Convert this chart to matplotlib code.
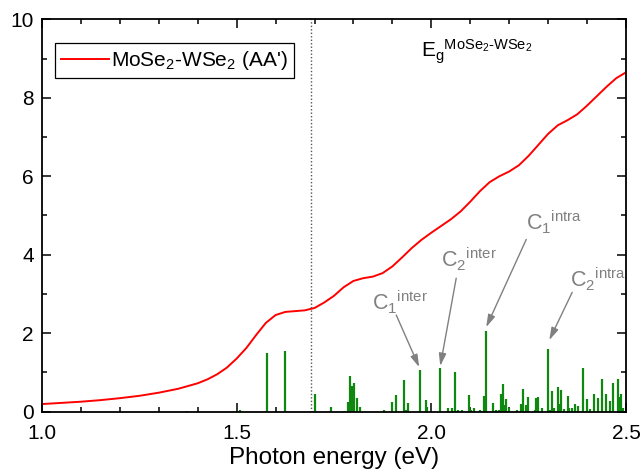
import matplotlib
matplotlib.use('Agg')
import matplotlib.pyplot as plt
import matplotlib.ticker as ticker

plt.rcParams['font.family'] = ['Liberation Sans', 'DejaVu Sans']
plt.rcParams['mathtext.fontset'] = 'custom'
plt.rcParams['mathtext.rm'] = 'Liberation Sans'
plt.rcParams['mathtext.it'] = 'Liberation Sans:italic'
plt.rcParams['mathtext.default'] = 'rm'

# Absorption of the MoSe2-WSe2 (AA') heterobilayer
energy = [1.00, 1.05, 1.10, 1.15, 1.20, 1.25, 1.30, 1.35, 1.40, 1.425,
          1.45, 1.475, 1.50, 1.525, 1.55, 1.575, 1.60, 1.625, 1.65, 1.675,
          1.70, 1.725, 1.75, 1.775, 1.80, 1.825, 1.85, 1.875, 1.90, 1.925,
          1.95, 1.975, 2.00, 2.025, 2.05, 2.075, 2.10, 2.125, 2.15, 2.175,
          2.20, 2.225, 2.25, 2.275, 2.30, 2.325, 2.35, 2.375, 2.40, 2.425,
          2.45, 2.475, 2.50]
absorption = [0.19, 0.22, 0.25, 0.29, 0.34, 0.40, 0.48, 0.58, 0.72, 0.82,
              0.95, 1.12, 1.35, 1.62, 1.95, 2.26, 2.46, 2.54, 2.56, 2.58,
              2.64, 2.78, 2.95, 3.17, 3.33, 3.40, 3.44, 3.53, 3.70, 3.93,
              4.17, 4.38, 4.56, 4.73, 4.90, 5.10, 5.35, 5.62, 5.85, 6.00,
              6.12, 6.28, 6.52, 6.80, 7.08, 7.30, 7.43, 7.58, 7.80, 8.04,
              8.28, 8.50, 8.65]

# Exciton oscillator strengths (sticks)
exc_energy = [1.373, 1.508, 1.579, 1.624, 1.702, 1.743, 1.775, 1.785, 1.790, 1.797,
              1.802, 1.809, 1.818, 1.879, 1.899, 1.910, 1.930, 1.935, 1.940, 1.971,
              1.986, 1.990, 2.022, 2.043, 2.052, 2.060, 2.068, 2.078, 2.097, 2.102,
              2.110, 2.126, 2.135, 2.140, 2.159, 2.166, 2.173, 2.179, 2.184, 2.189,
              2.192, 2.200, 2.221, 2.230, 2.235, 2.243, 2.249, 2.267, 2.270, 2.274,
              2.285, 2.300, 2.304, 2.309, 2.315, 2.325, 2.328, 2.333, 2.342, 2.351,
              2.354, 2.362, 2.368, 2.378, 2.390, 2.399, 2.408, 2.419, 2.428, 2.438,
              2.448, 2.458, 2.468, 2.479, 2.482, 2.487, 2.493]
exc_strength = [0.02, 0.05, 1.50, 1.55, 0.45, 0.11, 0.02, 0.24, 0.91, 0.65,
                0.72, 0.34, 0.11, 0.04, 0.23, 0.43, 0.80, 0.04, 0.22, 1.06,
                0.30, 0.11, 1.10, 0.08, 0.08, 1.01, 0.03, 0.03, 0.42, 0.05,
                0.10, 0.03, 0.39, 2.05, 0.22, 0.05, 0.05, 0.45, 0.69, 0.17,
                0.31, 0.10, 0.03, 0.18, 0.57, 0.16, 0.36, 0.05, 0.34, 0.36,
                0.08, 1.59, 0.05, 0.52, 0.08, 0.63, 0.20, 0.56, 0.06, 0.39,
                0.08, 0.08, 0.18, 0.13, 1.10, 0.31, 0.06, 0.44, 0.34, 0.84,
                0.45, 0.27, 0.73, 0.84, 0.38, 0.44, 0.10]

gap_energy = 1.69

# labelled peaks: (text, label position, arrow tail, arrow head)
peak_labels = [r'${C_1}^{inter}$', r'${C_2}^{inter}$', r'${C_1}^{intra}$', r'${C_2}^{intra}$']
label_xy = [(1.847, 2.58), (2.024, 3.68), (2.242, 4.62), (2.357, 3.17)]
tail_xy = [(1.910, 2.46), (2.064, 3.40), (2.244, 4.39), (2.362, 3.04)]
head_xy = [(1.969, 1.13), (2.023, 1.16), (2.141, 2.15), (2.303, 1.82)]

fig = plt.figure(figsize=(6.42, 4.73), dpi=100)
ax = fig.add_axes([0.0654, 0.130, 0.9096, 0.829])

ax.vlines(exc_energy, 0, exc_strength, color='#0e880e', lw=1.6)
ax.plot(energy, absorption, color='red', lw=1.4, label="MoSe$_2$-WSe$_2$ (AA')")
ax.axvline(gap_energy, color='#555555', lw=1.0, ls=(0, (1, 1.5)))

for txt, lxy, txy, hxy in zip(peak_labels, label_xy, tail_xy, head_xy):
    ax.text(lxy[0], lxy[1], txt, color='#808080', fontsize=15.5, ha='left', va='baseline')
    ax.annotate('', xy=hxy, xytext=txy,
                arrowprops=dict(arrowstyle='-|>,head_length=0.75,head_width=0.22',
                                color='#808080', lw=1.0, shrinkA=0, shrinkB=0))

ax.text(1.974, 9.02, r'${E_g}^{MoSe_2\text{-}WSe_2}$', fontsize=15, ha='left', va='baseline')

ax.set_xlim(1.0, 2.5)
ax.set_ylim(0, 10)
ax.xaxis.set_major_locator(ticker.MultipleLocator(0.5))
ax.xaxis.set_minor_locator(ticker.MultipleLocator(0.1))
ax.yaxis.set_major_locator(ticker.MultipleLocator(2))
ax.yaxis.set_minor_locator(ticker.MultipleLocator(1))
ax.xaxis.set_major_formatter(ticker.FormatStrFormatter('%.1f'))
ax.tick_params(which='both', direction='in', top=True, right=True, width=1.1, labelsize=15)
ax.tick_params(which='major', length=6.5)
ax.tick_params(which='minor', length=3.5)
ax.tick_params(axis='x', which='major', pad=9)
ax.tick_params(axis='y', which='major', pad=6)
for sp in ax.spines.values():
    sp.set_linewidth(1.3)

ax.set_xlabel('Photon energy (eV)', fontsize=17.5, labelpad=3)

leg = ax.legend(loc='upper left', fontsize=15, fancybox=False, edgecolor='black',
                framealpha=1, handlelength=2.3, handletextpad=0.1, borderpad=0.3,
                borderaxespad=0, bbox_to_anchor=(0.022, 0.94))
leg.get_frame().set_linewidth(0.9)

fig.savefig('out.png', dpi=100)
